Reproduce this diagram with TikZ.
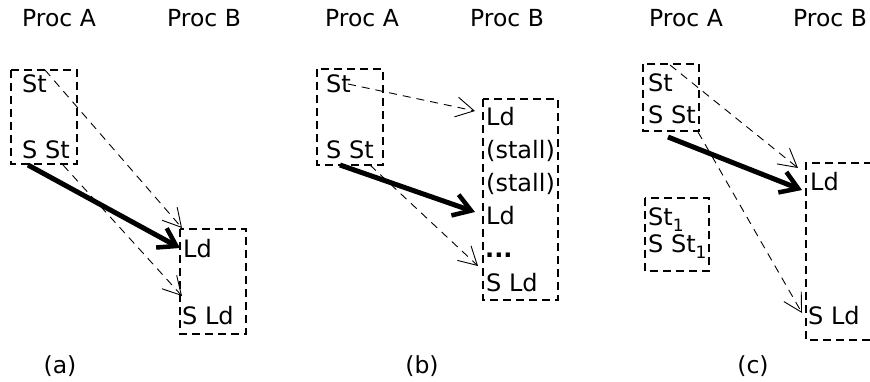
\documentclass[tikz,border=0pt]{standalone}
\usepackage{fontspec}
\setmainfont{DejaVu Sans}
\usetikzlibrary{arrows.meta}

\newcommand{\subone}{\smash{\raisebox{-0.25em}{\fontsize{17}{19}\selectfont 1}}}

\tikzset{
  lbl/.style={inner sep=0pt, anchor=base west, font=\fontsize{24}{28}\selectfont},
  head/.style={inner sep=0pt, anchor=base, font=\fontsize{23.5}{28}\selectfont},
  group/.style={draw, line width=2.2pt, dash pattern=on 8pt off 5pt},
  msg/.style={draw, line width=0.9pt, dash pattern=on 8pt off 6pt,
    -{Straight Barb[length=18pt,width=20pt,line width=0.9pt]}},
  sync/.style={draw, line width=5pt,
    -{Straight Barb[length=17pt,width=22pt,line width=4.5pt]}},
}

\begin{document}
\begin{tikzpicture}[x=1pt,y=-1pt]
\useasboundingbox (0,0) rectangle (870,381);

% ---------------- (a) ----------------
\node[head] (aPA) at (59,26) {Proc A};
\node[head] (aPB) at (204,26) {Proc B};
\draw[group] (11,70) rectangle (77,164);
\draw[group] (180,229) rectangle (246,334);
\node[lbl] (aSt) at (22,92) {St};
\node[lbl] (aSSt) at (22,158) {S St};
\node[lbl] (aLd) at (183,257) {Ld};
\node[lbl] (aSLd) at (182,324) {S Ld};
\node[head] (aCap) at (60,373) {(a)};
\coordinate (a1s) at (45,70);  \coordinate (a1e) at (182,228);
\coordinate (a2s) at (63,165); \coordinate (a2e) at (182,296);
\coordinate (a3s) at (28,165); \coordinate (a3e) at (180,248);
\draw[msg] (a1s) -- (a1e);
\draw[msg] (a2s) -- (a2e);
\draw[sync] (a3s) -- (a3e);

% ---------------- (b) ----------------
\node[head] (bPA) at (362,26) {Proc A};
\node[head] (bPB) at (507,26) {Proc B};
\draw[group] (317,69) rectangle (383,165);
\draw[group] (483,99) rectangle (558,300);
\node[lbl] (bSt) at (326,92) {St};
\node[lbl] (bSSt) at (326,158) {S St};
\node[lbl] (bLd1) at (486,125) {Ld};
\node[lbl] (bStall1) at (486,158) {(stall)};
\node[lbl] (bStall2) at (486,191) {(stall)};
\node[lbl] (bLd2) at (486,224) {Ld};
\node[lbl] (bDots) at (485,257) {\textbf{...}};
\node[lbl] (bSLd) at (486,291) {S Ld};
\node[head] (bCap) at (422,373) {(b)};
\coordinate (b1s) at (348,84);  \coordinate (b1e) at (475,111);
\coordinate (b2s) at (370,165); \coordinate (b2e) at (478,266);
\coordinate (b3s) at (340,165); \coordinate (b3e) at (475,212);
\draw[msg] (b1s) -- (b1e);
\draw[msg] (b2s) -- (b2e);
\draw[sync] (b3s) -- (b3e);

% ---------------- (c) ----------------
\node[head] (cPA) at (686,26) {Proc A};
\node[head] (cPB) at (830,26) {Proc B};
\draw[group] (643,64) rectangle (699,131);
\draw[group] (645,198) rectangle (709,271);
\draw[group] (872,163) -- (806,163) -- (806,340) -- (872,340);
\node[lbl] (cSt) at (648,91) {St};
\node[lbl] (cSSt) at (648,123) {S St};
\node[lbl] (cSt1) at (648,225) {St\subone};
\node[lbl] (cSSt1) at (648,252) {S St\subone};
\node[lbl] (cLd) at (810,190) {Ld};
\node[lbl] (cSLd) at (808,324) {S Ld};
\node[head] (cCap) at (753,373) {(c)};
\coordinate (c1s) at (670,65);  \coordinate (c1e) at (798,168);
\coordinate (c2s) at (698,132); \coordinate (c2e) at (802,313);
\coordinate (c3s) at (668,137); \coordinate (c3e) at (802,190);
\draw[msg] (c1s) -- (c1e);
\draw[msg] (c2s) -- (c2e);
\draw[sync] (c3s) -- (c3e);
\end{tikzpicture}
\end{document}
